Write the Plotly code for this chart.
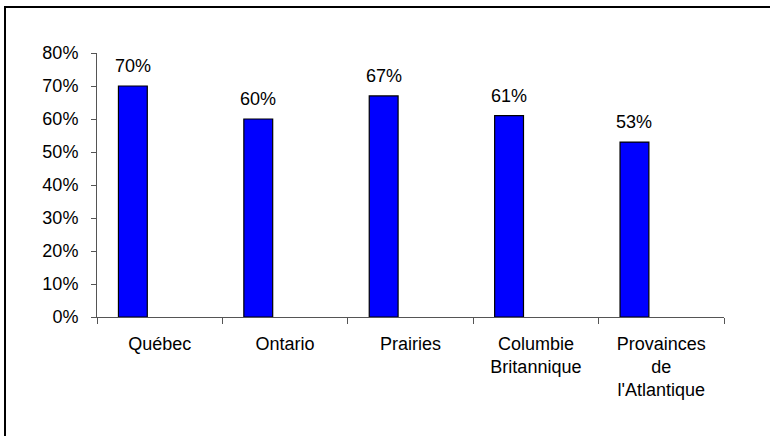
import plotly.graph_objects as go

categories = ["Québec", "Ontario", "Prairies", "Columbie<br>Britannique", "Provainces<br>de<br>l'Atlantique"]
values = [0.70, 0.60, 0.67, 0.61, 0.53]
labels = ["70%", "60%", "67%", "61%", "53%"]

W, H = 770, 436
ml, mr, mt, mb = 97, 46, 53, 119
pw, ph = W - ml - mr, H - mt - mb
cat_px = pw / len(categories)

bar_offset = -0.329
bar_width = 0.230

fig = go.Figure()
fig.add_trace(go.Bar(
    x=categories, y=values,
    offset=bar_offset, width=bar_width,
    marker=dict(color="#0000FF", line=dict(color="#000000", width=1.2)),
    hoverinfo="skip",
))

xshift = (bar_offset + bar_width / 2) * cat_px
for c, v, t in zip(categories, values, labels):
    fig.add_annotation(x=c, y=v, text=t, showarrow=False, yanchor="bottom",
                       xshift=xshift, yshift=8,
                       font=dict(family="Liberation Sans, Arial", size=18, color="#000"))

# outer frame
fig.add_shape(type="rect", xref="paper", yref="paper",
              x0=(5 - ml) / pw, x1=2, y0=-2, y1=(H - mb - 7) / ph,
              line=dict(color="#000", width=2), fillcolor="rgba(0,0,0,0)", layer="below")

fig.update_layout(
    width=W, height=H,
    margin=dict(l=ml, r=mr, t=mt, b=mb, autoexpand=False),
    paper_bgcolor="white", plot_bgcolor="white",
    showlegend=False,
    font=dict(family="Liberation Sans, Arial", size=18, color="#000"),
    xaxis=dict(
        type="category", tickson="boundaries", ticks="outside", ticklen=6,
        tickcolor="#555", showline=True, linecolor="#555", linewidth=1,
        showgrid=False, tickangle=0, ticklabelstandoff=10,
        range=[-0.5, 4.5],
    ),
    yaxis=dict(
        range=[0, 0.8], dtick=0.1, tickformat=".0%", ticks="outside", ticklen=5,
        tickcolor="#555", showline=True, linecolor="#555", linewidth=1,
        showgrid=False, zeroline=False, ticklabelstandoff=9,
    ),
)

fig.write_html("out.html")
